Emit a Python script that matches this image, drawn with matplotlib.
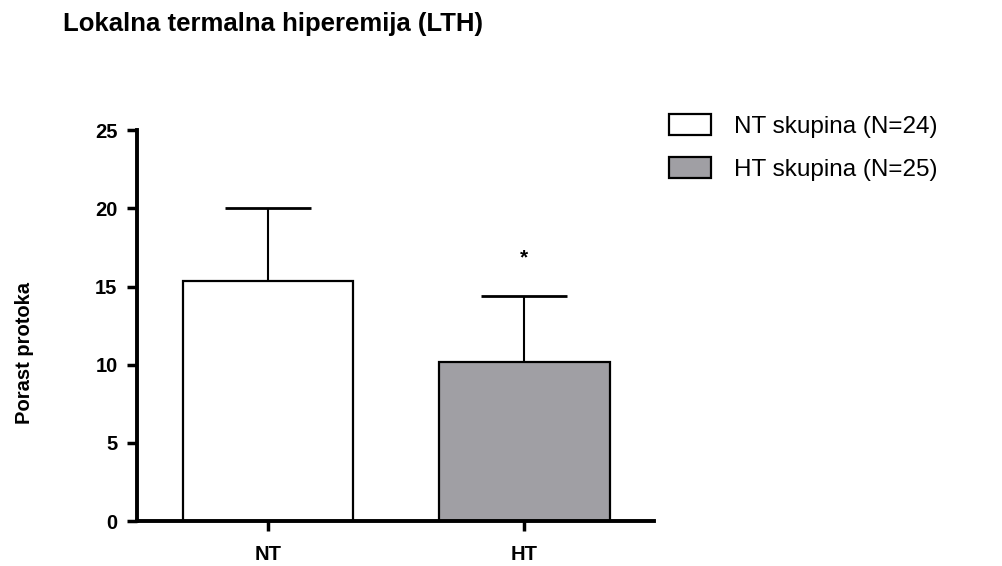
import numpy as np
import matplotlib.pyplot as plt

plt.rcParams['font.family'] = ['Liberation Sans', 'DejaVu Sans']

# data
groups = ['NT', 'HT']
means = [15.35, 10.15]
sd_upper = [4.65, 4.25]
legend_labels = ['NT skupina (N=24)', 'HT skupina (N=25)']
colors = ['white', '#a09fa4']
stars = ['', '*']

fig = plt.figure(figsize=(10.03, 5.66), dpi=100)
ax = fig.add_axes([0.1366, 0.0795, 0.5154, 0.6905])

x = np.arange(len(groups))
bars = ax.bar(x, means, width=0.665, color=colors, edgecolor='black',
              linewidth=1.6, zorder=2)
ax.errorbar(x, means, yerr=[np.zeros(len(means)), sd_upper], fmt='none',
            ecolor='black', elinewidth=1.5, capsize=31, capthick=2, zorder=1)

for xi, m, s, st in zip(x, means, sd_upper, stars):
    if st:
        ax.text(xi, m + s + 2.4, st, ha='center', va='center',
                fontsize=15, fontweight='bold')

ax.set_xlim(-0.51, 1.505)
ax.set_ylim(0, 25)
ax.set_yticks([0, 5, 10, 15, 20, 25])
ax.set_xticks(x)
ax.set_xticklabels(groups)
for s in ['top', 'right']:
    ax.spines[s].set_visible(False)
for s in ['left', 'bottom']:
    ax.spines[s].set_linewidth(2.8)
ax.tick_params(axis='both', direction='out', length=7, width=2.5,
               labelsize=14.5, pad=7)
ax.tick_params(axis='x', pad=10)
for lab in ax.get_xticklabels() + ax.get_yticklabels():
    lab.set_fontweight('bold')

ax.set_ylabel('Porast protoka', fontsize=14.5, fontweight='bold')
ax.yaxis.set_label_coords(-0.200, 0.43)

fig.text(0.063, 0.957, 'Lokalna termalna hiperemija (LTH)', fontsize=18.5,
         fontweight='bold', ha='left', va='center')

handles = [plt.Rectangle((0, 0), 1, 1, facecolor=c, edgecolor='black',
                         linewidth=1.6) for c in colors]
fig.legend(handles, legend_labels, loc='upper left',
           bbox_to_anchor=(0.657, 0.815), frameon=False, fontsize=17.5,
           handlelength=1.75, handleheight=0.9, handletextpad=0.95,
           labelspacing=0.8, borderaxespad=0)

fig.savefig('out.png', dpi=100)
